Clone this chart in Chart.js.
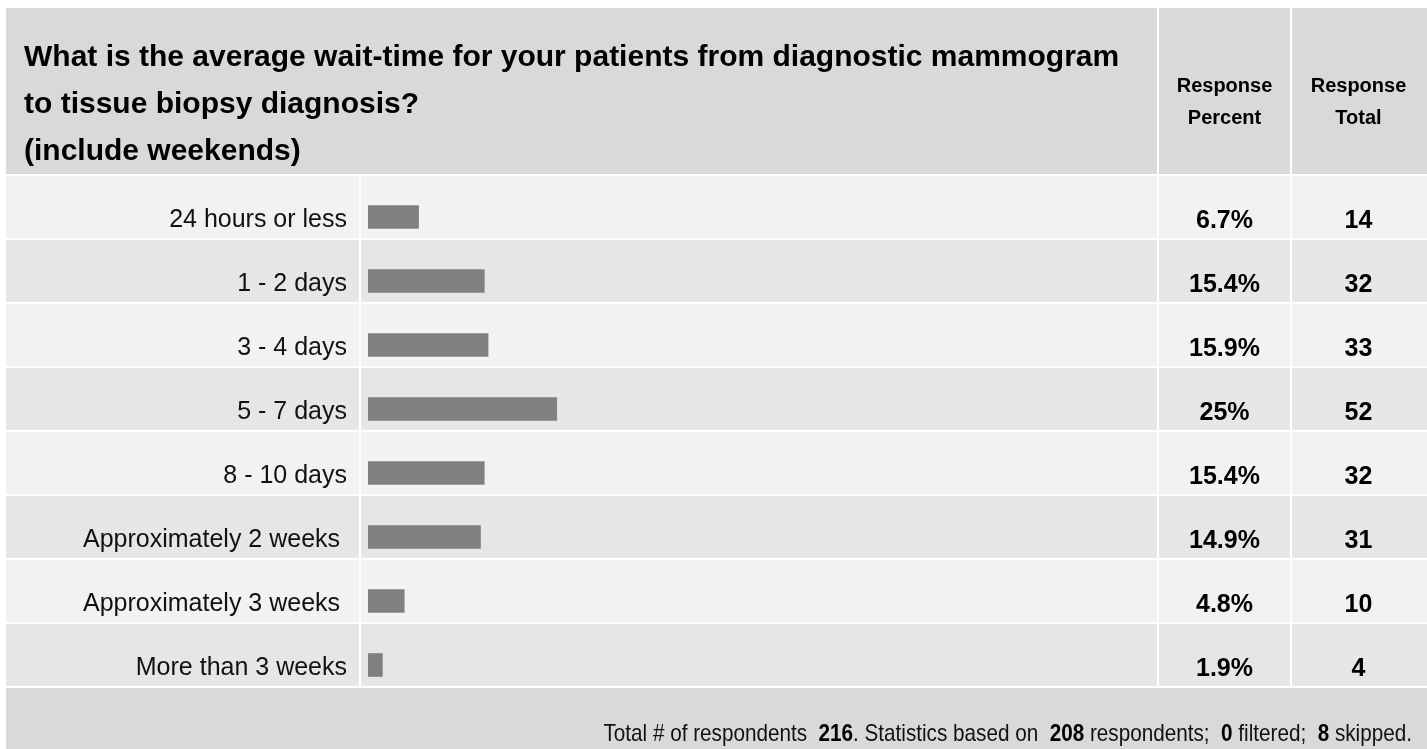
<!DOCTYPE html>
<html>
<head>
<meta charset="utf-8">
<title>Average wait-time from diagnostic mammogram to tissue biopsy diagnosis</title>
<script src="https://cdn.jsdelivr.net/npm/chart.js@4.4.1/dist/chart.umd.min.js"></script>
<style>
    html, body { margin: 0; padding: 0; background: #fff; overflow: hidden; }
    body { width: 1427px; height: 749px; position: relative; font-family: 'Liberation Sans', Arial, Helvetica, sans-serif; color: #000; }
    #wait-chart { position: absolute; left: 0; top: 0; }
    .question { position: absolute; left: 24px; top: 32px; font-weight: bold; font-size: 30px; line-height: 47px; white-space: nowrap; }
    .col-head { position: absolute; top: 69px; font-weight: bold; font-size: 20px; line-height: 32px; text-align: center; }
    .footer-note { position: absolute; right: 15px; top: 721px; font-size: 24px; line-height: 24px; white-space: pre; color: #111; transform-origin: right center; }
    .footer-note b { color: #000; }
</style>
</head>
<body>
<canvas id="wait-chart" width="1427" height="749"></canvas>

<div class="question">What is the average wait-time for your patients from diagnostic mammogram<br>to tissue biopsy diagnosis?<br>(include weekends)</div>
<div class="col-head" style="left:1159px; width:131px;">Response<br>Percent</div>
<div class="col-head" style="left:1292px; width:133px;">Response<br>Total</div>
<div class="footer-note" id="footer-note"></div>

<script>
'use strict';

// answer options (trailing space on the two "Approximately" rows is part of the label)
const waitLabels = [
    '24 hours or less',
    '1 - 2 days',
    '3 - 4 days',
    '5 - 7 days',
    '8 - 10 days',
    'Approximately 2 weeks ',
    'Approximately 3 weeks ',
    'More than 3 weeks'
];
const responsePercent = [6.7, 15.4, 15.9, 25, 15.4, 14.9, 4.8, 1.9];
const responseTotal = [14, 32, 33, 52, 32, 31, 10, 4];

const totalRespondents = 216;
const filteredCount = 0;

const FONT = "'Liberation Sans', Arial, Helvetica, sans-serif";
const HEADER_BG = '#d9d9d9';
const ROW_BG = ['#f2f2f2', '#e6e6e6'];
// table columns: label | bar | percent | total
const COLS = [[6, 359], [361, 1157], [1159, 1290], [1292, 1427]];

// grey table cells behind everything, rows follow the category scale
const tableBackground = {
    id: 'tableBackground',
    beforeDraw(chart) {
        const { ctx } = chart;
        const y = chart.scales.y;
        ctx.save();
        ctx.fillStyle = '#fff';
        ctx.fillRect(0, 0, chart.width, chart.height);

        ctx.fillStyle = HEADER_BG;
        ctx.fillRect(COLS[0][0], 8, COLS[1][1] - COLS[0][0], 166);
        ctx.fillRect(COLS[2][0], 8, COLS[2][1] - COLS[2][0], 166);
        ctx.fillRect(COLS[3][0], 8, COLS[3][1] - COLS[3][0], 166);

        let lastBottom = 0;
        waitLabels.forEach((_, i) => {
            const top = Math.round(y.getPixelForValue(i)) - 41;
            ctx.fillStyle = ROW_BG[i % 2];
            COLS.forEach(([l, r]) => ctx.fillRect(l, top, r - l, 62));
            lastBottom = top + 62;
        });

        ctx.fillStyle = HEADER_BG;
        ctx.fillRect(COLS[0][0], lastBottom + 2, COLS[3][1] - COLS[0][0], chart.height - lastBottom - 2);
        ctx.restore();
    }
};

// percent and count columns to the right of the bars
const valueColumns = {
    id: 'valueColumns',
    afterDatasetsDraw(chart) {
        const { ctx } = chart;
        const y = chart.scales.y;
        ctx.save();
        ctx.fillStyle = '#000';
        ctx.font = `bold 25px ${FONT}`;
        ctx.textAlign = 'center';
        ctx.textBaseline = 'alphabetic';
        const pctX = (COLS[2][0] + COLS[2][1]) / 2;
        const totX = (COLS[3][0] + COLS[3][1] - 2) / 2;
        responsePercent.forEach((p, i) => {
            const base = Math.round(y.getPixelForValue(i)) + 11;
            ctx.fillText(`${p}%`, pctX, base);
            ctx.fillText(String(responseTotal[i]), totX, base);
        });
        ctx.restore();
    }
};

const ctx = document.getElementById('wait-chart').getContext('2d');
new Chart(ctx, {
    type: 'bar',
    data: {
        labels: waitLabels,
        datasets: [{
            data: responsePercent,
            backgroundColor: '#808080',
            borderWidth: 0,
            barThickness: 23
        }]
    },
    options: {
        indexAxis: 'y',
        responsive: false,
        animation: false,
        devicePixelRatio: 1,
        layout: { padding: { top: 185, bottom: 52, left: 0, right: 304 } },
        plugins: {
            legend: { display: false },
            tooltip: { enabled: false }
        },
        scales: {
            x: { display: false, min: 0, max: 100 },
            y: {
                grid: { display: false, drawTicks: false },
                border: { display: false },
                ticks: {
                    padding: 21,
                    labelOffset: 3,
                    color: '#111',
                    autoSkip: false,
                    font: { family: FONT, size: 25 }
                },
                afterFit(scale) { scale.width = 368; }
            }
        }
    },
    plugins: [tableBackground, valueColumns]
});

// footer summary line, squeezed to the narrow width of the original
const answered = responseTotal.reduce((a, b) => a + b, 0);
const skipped = totalRespondents - answered;
const note = document.getElementById('footer-note');
note.innerHTML = `Total # of respondents  <b>${totalRespondents}</b>. Statistics based on  <b>${answered}</b> respondents;  <b>${filteredCount}</b> filtered;  <b>${skipped}</b> skipped.`;
const natural = note.getBoundingClientRect().width;
note.style.transform = `scaleX(${(809 / natural).toFixed(3)})`;
</script>
</body>
</html>
